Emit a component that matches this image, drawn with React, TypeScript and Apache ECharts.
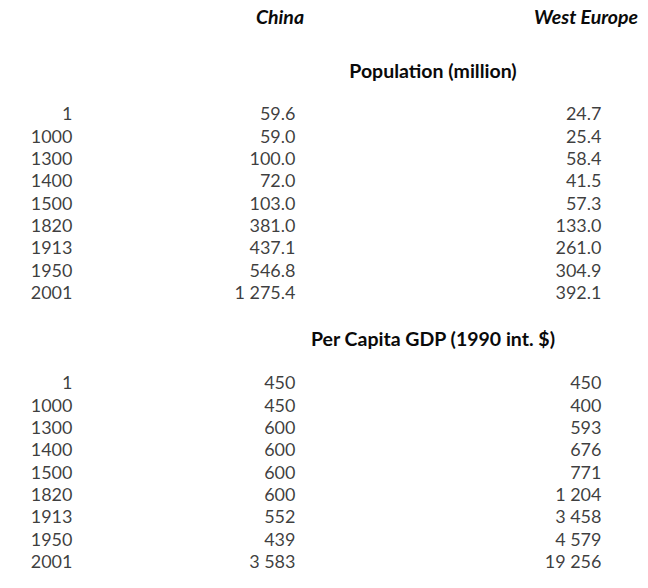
import React, { useEffect, useRef } from "react";
import * as echarts from "echarts";

const years = ["1", "1000", "1300", "1400", "1500", "1820", "1913", "1950", "2001"];
const chinaPop = [59.6, 59.0, 100.0, 72.0, 103.0, 381.0, 437.1, 546.8, 1275.4];
const westPop = [24.7, 25.4, 58.4, 41.5, 57.3, 133.0, 261.0, 304.9, 392.1];
const chinaGdp = [450, 450, 600, 600, 600, 600, 552, 439, 3583];
const westGdp = [450, 400, 593, 676, 771, 1204, 3458, 4579, 19256];
const columnHeads = ["China", "West Europe"];
const sectionTitles = ["Population (million)", "Per Capita GDP (1990 int. $)"];

// layout (pixels): right edges of the three columns
const COL_YEAR = 73;
const COL_CHINA = 296;
const COL_WEST = 602;
const FONT = "Lato";
const FS = 18;
const HFS = 19.5;

function fmt(v: number, dec: number): string {
  const s = v.toFixed(dec);
  const [i, d] = s.split(".");
  const g = i.replace(/\B(?=(\d{3})+(?!\d))/g, " ");
  return d !== undefined ? g + "." + d : g;
}

function col(x: number, labels: string[], gridIndex: number) {
  return {
    type: "scatter",
    xAxisIndex: gridIndex,
    yAxisIndex: gridIndex,
    symbolSize: 1,
    itemStyle: { color: "rgba(0,0,0,0)" },
    silent: true,
    data: labels.map((t, i) => ({ value: [x, i], name: t })),
    label: {
      show: true,
      position: "left",
      distance: 0,
      formatter: (p: any) => p.name,
      color: "#0a0a0a",
      fontFamily: FONT,
      fontSize: FS,
    },
  };
}

export default function App() {
  const ref = useRef<HTMLDivElement>(null);
  useEffect(() => {
    const chart = echarts.init(ref.current!, null, { renderer: "svg" });
    const rowH = 22.35;
    const grids = [
      { left: 0, width: 648, top: 102, height: rowH * years.length },
      { left: 0, width: 648, top: 371, height: rowH * years.length },
    ];
    const head = { fontFamily: FONT, fontSize: HFS, fontWeight: "bold", color: "#0a0a0a" };
    chart.setOption({
      animation: false,
      backgroundColor: "#fff",
      title: [
        { text: columnHeads[0], left: 275, top: 1, textAlign: "center", textStyle: { ...head, fontStyle: "italic" } },
        { text: columnHeads[1], left: 581, top: 1, textAlign: "center", textStyle: { ...head, fontStyle: "italic" } },
        { text: sectionTitles[0], left: 428, top: 55, textAlign: "center", textStyle: head },
        { text: sectionTitles[1], left: 428, top: 323, textAlign: "center", textStyle: head },
      ],
      grid: grids,
      xAxis: grids.map((_, i) => ({ gridIndex: i, type: "value", min: 0, max: 648, show: false })),
      yAxis: grids.map((_, i) => ({
        gridIndex: i,
        type: "category",
        data: years,
        inverse: true,
        show: false,
      })),
      series: [
        col(COL_YEAR, years, 0),
        col(COL_CHINA, chinaPop.map((v) => fmt(v, 1)), 0),
        col(COL_WEST, westPop.map((v) => fmt(v, 1)), 0),
        col(COL_YEAR, years, 1),
        col(COL_CHINA, chinaGdp.map((v) => fmt(v, 0)), 1),
        col(COL_WEST, westGdp.map((v) => fmt(v, 0)), 1),
      ],
    });
    return () => chart.dispose();
  }, []);
  return <div ref={ref} style={{ width: 648, height: 588, position: "absolute", left: 0, top: 0 }} />;
}
